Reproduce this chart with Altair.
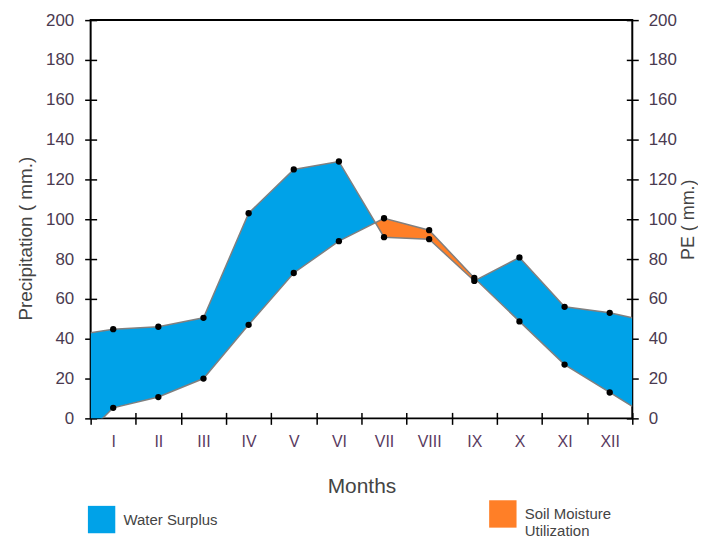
import altair as alt
import pandas as pd

# ---- data ----
months = ["I", "II", "III", "IV", "V", "VI", "VII", "VIII", "IX", "X", "XI", "XII"]
precip = [44.8, 46, 50.5, 103, 125, 129, 91, 90, 69, 80.8, 56, 53]
pe = [5.3, 10.7, 20, 47, 73, 89, 100.5, 94.5, 70.5, 48.7, 27, 13]
precip_edges = [43, 50.5]      # values at the left / right plot edge
pe_edges = [-6, 6]
y_ticks = list(range(0, 201, 20))
legend_names = ["Water Surplus", "Soil Moisture Utilization"]
colors = ["#00A2E8", "#FF7F27"]

# ---- tables ----
xs = [0] + [i + 0.5 for i in range(len(months))] + [len(months)]
P = [precip_edges[0]] + precip + [precip_edges[1]]
E = [pe_edges[0]] + pe + [pe_edges[1]]


def kind(p, e):
    return legend_names[0] if p >= e else legend_names[1]


rows = []
run = 0
cur = kind(P[0], E[0])
rows.append(dict(x=xs[0], P=P[0], PE=E[0], run=run, type=cur))
for i in range(1, len(xs)):
    d0 = P[i - 1] - E[i - 1]
    d1 = P[i] - E[i]
    if d0 * d1 < 0:  # the two curves cross inside this segment
        t = d0 / (d0 - d1)
        xc = xs[i - 1] + t * (xs[i] - xs[i - 1])
        yc = P[i - 1] + t * (P[i] - P[i - 1])
        rows.append(dict(x=xc, P=yc, PE=yc, run=run, type=cur))
        run += 1
        cur = kind(P[i], E[i])
        rows.append(dict(x=xc, P=yc, PE=yc, run=run, type=cur))
    rows.append(dict(x=xs[i], P=P[i], PE=E[i], run=run, type=cur))
area_df = pd.DataFrame(rows)

line_rows = []
for x, p, e in zip(xs, P, E):
    line_rows.append(dict(x=x, v=p, s="P"))
    line_rows.append(dict(x=x, v=e, s="PE"))
line_df = pd.DataFrame(line_rows)

pt_rows = []
for i, m in enumerate(months):
    pt_rows.append(dict(x=i + 0.5, v=precip[i], s="P"))
    pt_rows.append(dict(x=i + 0.5, v=pe[i], s="PE"))
pt_df = pd.DataFrame(pt_rows)

W, H = 544, 400
FONT = "Liberation Sans"
TXT = "#444444"
LAB = "#4a3a50"

xscale = alt.Scale(domain=[0, len(months)], nice=False, zero=False)
yscale = alt.Scale(domain=[0, 200], nice=False)

month_expr = "[" + ",".join("'%s'" % m for m in months) + "][datum.value] || ''"

x_axis = alt.Axis(
    values=list(range(len(months) + 1)), labelExpr=month_expr,
    labelOffset=W / len(months) / 2, labelFlush=False, labelOverlap=False,
    tickSize=12, offset=-6, domain=False, grid=False, tickColor="black", tickWidth=1.5,
    labelPadding=9, labelFontSize=16, labelColor="#5a3a60", labelFont=FONT,
    title="Months", titleFont=FONT, titleFontSize=21, titleFontWeight="normal",
    titleColor=TXT, titlePadding=26,
)

left_axis = alt.Axis(
    values=y_ticks, tickSize=12, offset=-6, domain=False, grid=False,
    tickColor="black", tickWidth=1.5, labelPadding=11, labelFontSize=17,
    labelColor=LAB, labelFont=FONT,
    title="Precipitation ( mm.)", titleFont=FONT, titleFontSize=19,
    titleFontWeight="normal", titleColor=TXT, titlePadding=10, titleY=219,
)

right_axis = alt.Axis(
    orient="right", values=y_ticks, tickSize=12, offset=-6, domain=False, grid=False,
    tickColor="black", tickWidth=1.5, labelPadding=10, labelFontSize=17,
    labelColor=LAB, labelFont=FONT,
    title="PE ( mm.)", titleFont=FONT, titleFontSize=18, titleAngle=270,
    titleBaseline="top",
    titleFontWeight="normal", titleColor=TXT, titlePadding=3,
)

legend = alt.Legend(
    title=None, orient="none", legendX=-3, legendY=482, direction="horizontal",
    columns=2, columnPadding=272, symbolType="square", symbolSize=756,
    symbolStrokeWidth=0, symbolOpacity=1, labelFontSize=15, labelFont=FONT,
    labelOffset=8, labelLimit=400, labelColor=TXT, padding=0,
    labelExpr="datum.label == 'Soil Moisture Utilization' ? ['Soil Moisture', 'Utilization'] : datum.label",
)

area = alt.Chart(area_df).mark_area(clip=True, opacity=1).encode(
    x=alt.X("x:Q", scale=xscale, axis=x_axis),
    y=alt.Y("P:Q", scale=yscale, axis=left_axis),
    y2="PE:Q",
    color=alt.Color("type:N", scale=alt.Scale(domain=legend_names, range=colors), legend=legend),
    detail="run:N",
)

lines = alt.Chart(line_df).mark_line(clip=True, color="#808080", strokeWidth=1.5).encode(
    x=alt.X("x:Q", scale=xscale, axis=x_axis),
    y=alt.Y("v:Q", scale=yscale, axis=None),
    detail="s:N",
)

points = alt.Chart(pt_df).mark_circle(color="black", size=40, opacity=1).encode(
    x=alt.X("x:Q", scale=xscale, axis=x_axis),
    y=alt.Y("v:Q", scale=yscale, axis=right_axis),
)

chart = (
    alt.layer(area, lines, points)
    .resolve_scale(y="independent")
    .properties(width=W, height=H, padding={"left": 8, "top": 2, "right": 0, "bottom": 0})
    .configure_view(stroke="black", strokeWidth=2)
)

chart.save("out.html", embed_options={"renderer": "svg", "actions": False})
